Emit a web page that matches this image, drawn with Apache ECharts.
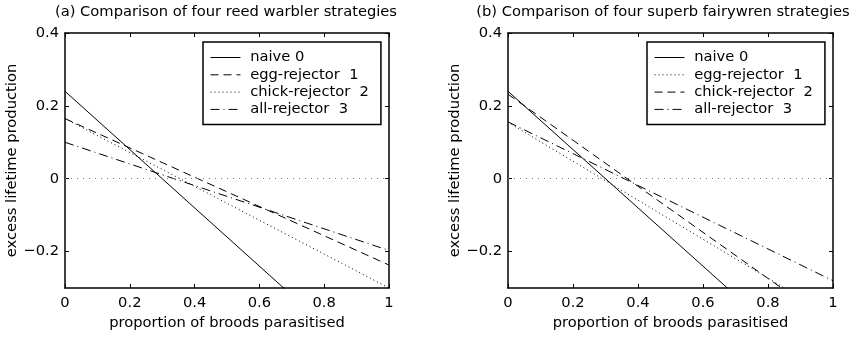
<!DOCTYPE html>
<html>
<head>
<meta charset="utf-8">
<script src="https://cdn.jsdelivr.net/npm/echarts@6/dist/echarts.min.js"></script>
<style>
  html, body { margin: 0; padding: 0; background: #fff; }
  #chart { width: 863px; height: 338px; }
</style>
</head>
<body>
<div id="chart"></div>
<script>
// Excess lifetime production vs. proportion of broods parasitised.
// Every strategy is a straight line, so each series is given by its
// values at the two ends of the x range (0 and 1).
const xEnds = [0, 1];

const reedNaive = [0.24, -0.56];
const reedEgg   = [0.165, -0.237];
const reedChick = [0.165, -0.30];
const reedAll   = [0.10, -0.197];

const wrenNaive = [0.24, -0.56];
const wrenEgg   = [0.155, -0.38];
const wrenChick = [0.232, -0.40];
const wrenAll   = [0.156, -0.28];

const strategyNames = ['naive 0', 'egg-rejector  1', 'chick-rejector  2', 'all-rejector  3'];
const panelTitles = [
  '(a) Comparison of four reed warbler strategies',
  '(b) Comparison of four superb fairywren strategies'
];
const xTicks = [0, 0.2, 0.4, 0.6, 0.8, 1];
const yTicks = [-0.2, 0, 0.2, 0.4];
const xName = 'proportion of broods parasitised';
const yName = 'excess lifetime production';

const FONT = 'DejaVu Sans';
const FS = 14.7;
const SOLID = 'solid';
const DASH = [8, 5];
const DOT = [1, 3];
const DASHDOT = [9, 4, 1, 4];

const pair = vals => xEnds.map((x, i) => [x, vals[i]]);

const grids = [
  { left: 65, right: 474, top: 33, bottom: 50 },
  { left: 508, right: 30, top: 33, bottom: 50 }
];

const xAxes = [];
const yAxes = [];
grids.forEach((g, gi) => {
  const common = {
    type: 'value', gridIndex: gi, min: 0, max: 1, interval: 0.2,
    axisLine: { show: true, onZero: false, lineStyle: { color: '#000', width: 1.5 } },
    axisTick: { show: true, inside: true, length: 4, lineStyle: { color: '#000', width: 1 } },
    splitLine: { show: false }
  };
  xAxes.push(Object.assign({}, common, {
    position: 'bottom',
    name: xName, nameLocation: 'middle', nameGap: 27,
    nameTextStyle: { fontFamily: FONT, fontSize: FS, color: '#000' },
    axisLabel: { show: true, margin: 8, fontFamily: FONT, fontSize: FS, color: '#000' }
  }));
  xAxes.push(Object.assign({}, common, {
    position: 'top', axisLabel: { show: false }
  }));
  const ycommon = {
    type: 'value', gridIndex: gi, min: -0.3, max: 0.4,
    axisLine: { show: true, onZero: false, lineStyle: { color: '#000', width: 1.5 } },
    axisTick: { show: true, inside: true, length: 4, customValues: yTicks, lineStyle: { color: '#000', width: 1 } },
    splitLine: { show: false }
  };
  yAxes.push(Object.assign({}, ycommon, {
    position: 'left',
    name: yName, nameLocation: 'middle', nameGap: 43, nameRotate: 90,
    nameTextStyle: { fontFamily: FONT, fontSize: FS, color: '#000' },
    axisLabel: {
      show: true, margin: 6, fontFamily: FONT, fontSize: FS, color: '#000',
      customValues: yTicks,
      formatter: v => String(Math.round(v * 10) / 10).replace('-', '\u2212')
    }
  }));
  yAxes.push(Object.assign({}, ycommon, {
    position: 'right', axisLabel: { show: false }
  }));
});

function lineSeries(name, gi, vals, dash, withZero) {
  const s = {
    name: name, type: 'line',
    xAxisIndex: gi * 2, yAxisIndex: gi * 2,
    data: pair(vals), symbol: 'none', clip: true, silent: true,
    lineStyle: { color: '#000', width: 1, type: dash },
    itemStyle: { color: '#000' },
    z: 3
  };
  if (withZero) {
    s.markLine = {
      silent: true, symbol: 'none', label: { show: false },
      lineStyle: { color: '#777', width: 1, type: [1, 5] },
      data: [{ yAxis: 0 }],
      animation: false
    };
  }
  return s;
}

const reedDash = [SOLID, DASH, DOT, DASHDOT];
const wrenDash = [SOLID, DOT, DASH, DASHDOT];

const series = [
  lineSeries(strategyNames[0], 0, reedNaive, reedDash[0], true),
  lineSeries(strategyNames[1], 0, reedEgg,   reedDash[1]),
  lineSeries(strategyNames[2], 0, reedChick, reedDash[2]),
  lineSeries(strategyNames[3], 0, reedAll,   reedDash[3]),
  lineSeries(strategyNames[0], 1, wrenNaive, wrenDash[0], true),
  lineSeries(strategyNames[1], 1, wrenEgg,   wrenDash[1]),
  lineSeries(strategyNames[2], 1, wrenChick, wrenDash[2]),
  lineSeries(strategyNames[3], 1, wrenAll,   wrenDash[3])
];

function legendFor(left, dashes) {
  return {
    show: true,
    left: left, top: 42, orient: 'vertical',
    itemWidth: 30, itemHeight: 14, itemGap: 2.3,
    padding: [8, 12, 7.5, 7],
    backgroundColor: '#fff', borderColor: '#000', borderWidth: 1.5,
    selectedMode: false,
    formatter: n => ' ' + n,
    textStyle: { fontFamily: FONT, fontSize: FS, color: '#000' },
    data: strategyNames.map((n, i) => ({
      name: n,
      itemStyle: { opacity: 0 },
      lineStyle: { color: '#000', width: 1, type: dashes[i] }
    }))
  };
}

const chart = echarts.init(document.getElementById('chart'), null, { renderer: 'canvas' });
chart.setOption({
  animation: false,
  backgroundColor: '#fff',
  title: [
    { text: panelTitles[0], left: 226, top: 5, textAlign: 'center', padding: 0,
      textStyle: { fontFamily: FONT, fontSize: FS, fontWeight: 'normal', color: '#000' } },
    { text: panelTitles[1], left: 663, top: 5, textAlign: 'center', padding: 0,
      textStyle: { fontFamily: FONT, fontSize: FS, fontWeight: 'normal', color: '#000' } }
  ],
  legend: [legendFor(203, reedDash), legendFor(647, wrenDash)],
  grid: grids,
  xAxis: xAxes,
  yAxis: yAxes,
  series: series
});
</script>
</body>
</html>
